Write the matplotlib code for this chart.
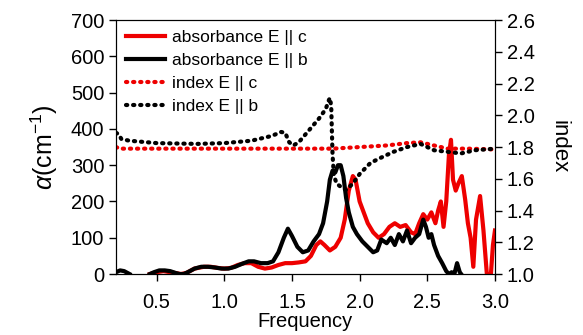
import matplotlib
matplotlib.use("Agg")
import matplotlib.pyplot as plt
import numpy as np

plt.rcParams['font.family'] = ['Liberation Sans', 'DejaVu Sans']
plt.rcParams['mathtext.fontset'] = 'custom'
plt.rcParams['mathtext.rm'] = 'Liberation Sans'
plt.rcParams['mathtext.it'] = 'Liberation Sans:italic'

# absorbance E || c (red), left axis
freq_abs_c = [0.45, 0.50, 0.55, 0.60, 0.65, 0.68, 0.72, 0.78, 0.85, 0.90, 0.95, 1.00, 1.05, 1.10,
              1.15, 1.20, 1.25, 1.30, 1.35, 1.40, 1.45, 1.50, 1.55, 1.60, 1.64, 1.68, 1.71, 1.74,
              1.78, 1.82, 1.86, 1.89, 1.92, 1.95, 1.97, 2.00, 2.03, 2.06, 2.10, 2.14, 2.18, 2.22,
              2.26, 2.30, 2.34, 2.38, 2.41, 2.44, 2.47, 2.50, 2.53, 2.56, 2.58, 2.60, 2.62, 2.64,
              2.66, 2.675, 2.69, 2.71, 2.73, 2.755, 2.78, 2.80, 2.82, 2.84, 2.86, 2.89, 2.915,
              2.94, 2.97, 2.985, 3.00]
abs_c = [0, 5, 8, 5, 2, 0, 3, 15, 20, 20, 17, 15, 17, 25,
         30, 30, 20, 15, 18, 25, 30, 30, 32, 35, 50, 80, 90, 80,
         65, 75, 100, 150, 230, 270, 260, 200, 170, 140, 115, 100, 110, 130,
         140, 130, 135, 115, 110, 140, 165, 150, 170, 140, 175, 200, 130, 200,
         330, 370, 260, 230, 250, 270, 205, 140, 100, 20, 150, 215, 120,
         0, 0, 80, 120]

# absorbance E || b (black), left axis
freq_abs_b = [0.20, 0.23, 0.26, 0.29, 0.30, 0.31, 0.45, 0.48, 0.52, 0.56, 0.60, 0.64, 0.67,
              0.70, 0.73, 0.78, 0.83, 0.88, 0.93, 0.98, 1.03, 1.08, 1.13, 1.18, 1.22, 1.27,
              1.32, 1.36, 1.40, 1.44, 1.47, 1.50, 1.54, 1.58, 1.62, 1.66, 1.70, 1.73, 1.76,
              1.78, 1.80, 1.82, 1.84, 1.86, 1.88, 1.90, 1.92, 1.95, 1.98, 2.02, 2.06, 2.10,
              2.13, 2.16, 2.20, 2.23, 2.26, 2.29, 2.32, 2.35, 2.38, 2.41, 2.44, 2.47, 2.49,
              2.51, 2.53, 2.55, 2.58, 2.61, 2.64, 2.66, 2.68, 2.70, 2.72, 2.74, 2.75]
abs_b = [5, 10, 8, 2, 0, np.nan, 0, 5, 10, 10, 8, 3, 0,
         0, 5, 15, 20, 20, 18, 15, 15, 20, 28, 35, 35, 30,
         30, 35, 60, 100, 125, 105, 75, 60, 65, 90, 110, 140, 200,
         260, 285, 280, 300, 300, 270, 210, 170, 130, 110, 90, 75, 60,
         65, 95, 85, 100, 80, 110, 90, 120, 85, 100, 110, 150, 130,
         100, 110, 80, 50, 30, 8, 0, 5, 0, 30, 5, 0]

# index E || c (red dotted), right axis
freq_idx_c = [0.20, 0.23, 0.50, 1.00, 1.50, 1.80, 2.00, 2.20, 2.35, 2.45, 2.55, 2.65, 2.80, 3.00]
idx_c = [1.80, 1.79, 1.79, 1.79, 1.79, 1.79, 1.80, 1.81, 1.825, 1.83, 1.81, 1.79, 1.79, 1.785]

# index E || b (black dotted), right axis
freq_idx_b = [0.20, 0.22, 0.24, 0.30, 0.50, 0.80, 1.00, 1.20, 1.35, 1.42, 1.45, 1.48, 1.51,
              1.55, 1.60, 1.65, 1.70, 1.75, 1.77, 1.78, 1.79, 1.795, 1.80, 1.81, 1.83, 1.86,
              1.90, 1.95, 2.00, 2.08, 2.15, 2.25, 2.35, 2.45, 2.50, 2.55, 2.65, 2.75, 2.85, 3.00]
idx_b = [1.89, 1.88, 1.85, 1.84, 1.825, 1.82, 1.825, 1.84, 1.87, 1.895, 1.89, 1.83, 1.81,
         1.83, 1.88, 1.93, 1.98, 2.04, 2.09, 2.11, 2.06, 1.90, 1.75, 1.62, 1.57, 1.55,
         1.53, 1.57, 1.63, 1.70, 1.73, 1.77, 1.80, 1.82, 1.80, 1.78, 1.77, 1.76, 1.78, 1.79]

fig = plt.figure(figsize=(5.83, 3.35), dpi=100)
ax = fig.add_axes([0.199, 0.182, 0.65, 0.758])
ax2 = ax.twinx()

l1, = ax.plot(freq_abs_c, abs_c, color='#ee0000', lw=3, label='absorbance E || c')
l2, = ax.plot(freq_abs_b, abs_b, color='black', lw=3, label='absorbance E || b')
l3, = ax2.plot(freq_idx_c, idx_c, color='#ee0000', lw=3, dashes=(0.3, 1.4),
               dash_capstyle='round', label='index E || c')
l4, = ax2.plot(freq_idx_b, idx_b, color='black', lw=3, dashes=(0.3, 1.4),
               dash_capstyle='round', label='index E || b')

ax.set_xlim(0.2, 3.0)
ax.set_ylim(0, 700)
ax2.set_ylim(1.0, 2.6)
ax.set_xticks([0.5, 1.0, 1.5, 2.0, 2.5, 3.0])
ax.set_yticks(range(0, 701, 100))
ax2.set_yticks(np.arange(1.0, 2.61, 0.2))
ax2.set_yticklabels(['%.1f' % v for v in np.arange(1.0, 2.61, 0.2)])

for a in (ax, ax2):
    a.tick_params(direction='out', length=5, width=1, labelsize=14.5)
ax.tick_params(axis='x', top=False, pad=9)

ax.set_xlabel('Frequency', fontsize=14.5, labelpad=0)
ax.set_ylabel(r'$\alpha$(cm$^{-1}$)', fontsize=18, labelpad=8)
ax2.set_ylabel('index', fontsize=16, rotation=270, labelpad=25)

ax.legend(handles=[l1, l2, l3, l4], loc='upper left', frameon=False, fontsize=12.5,
          handlelength=2.3, handletextpad=0.35, labelspacing=0.45,
          borderaxespad=0.15, bbox_to_anchor=(0.0, 1.0))

fig.savefig('out.png', dpi=100)
